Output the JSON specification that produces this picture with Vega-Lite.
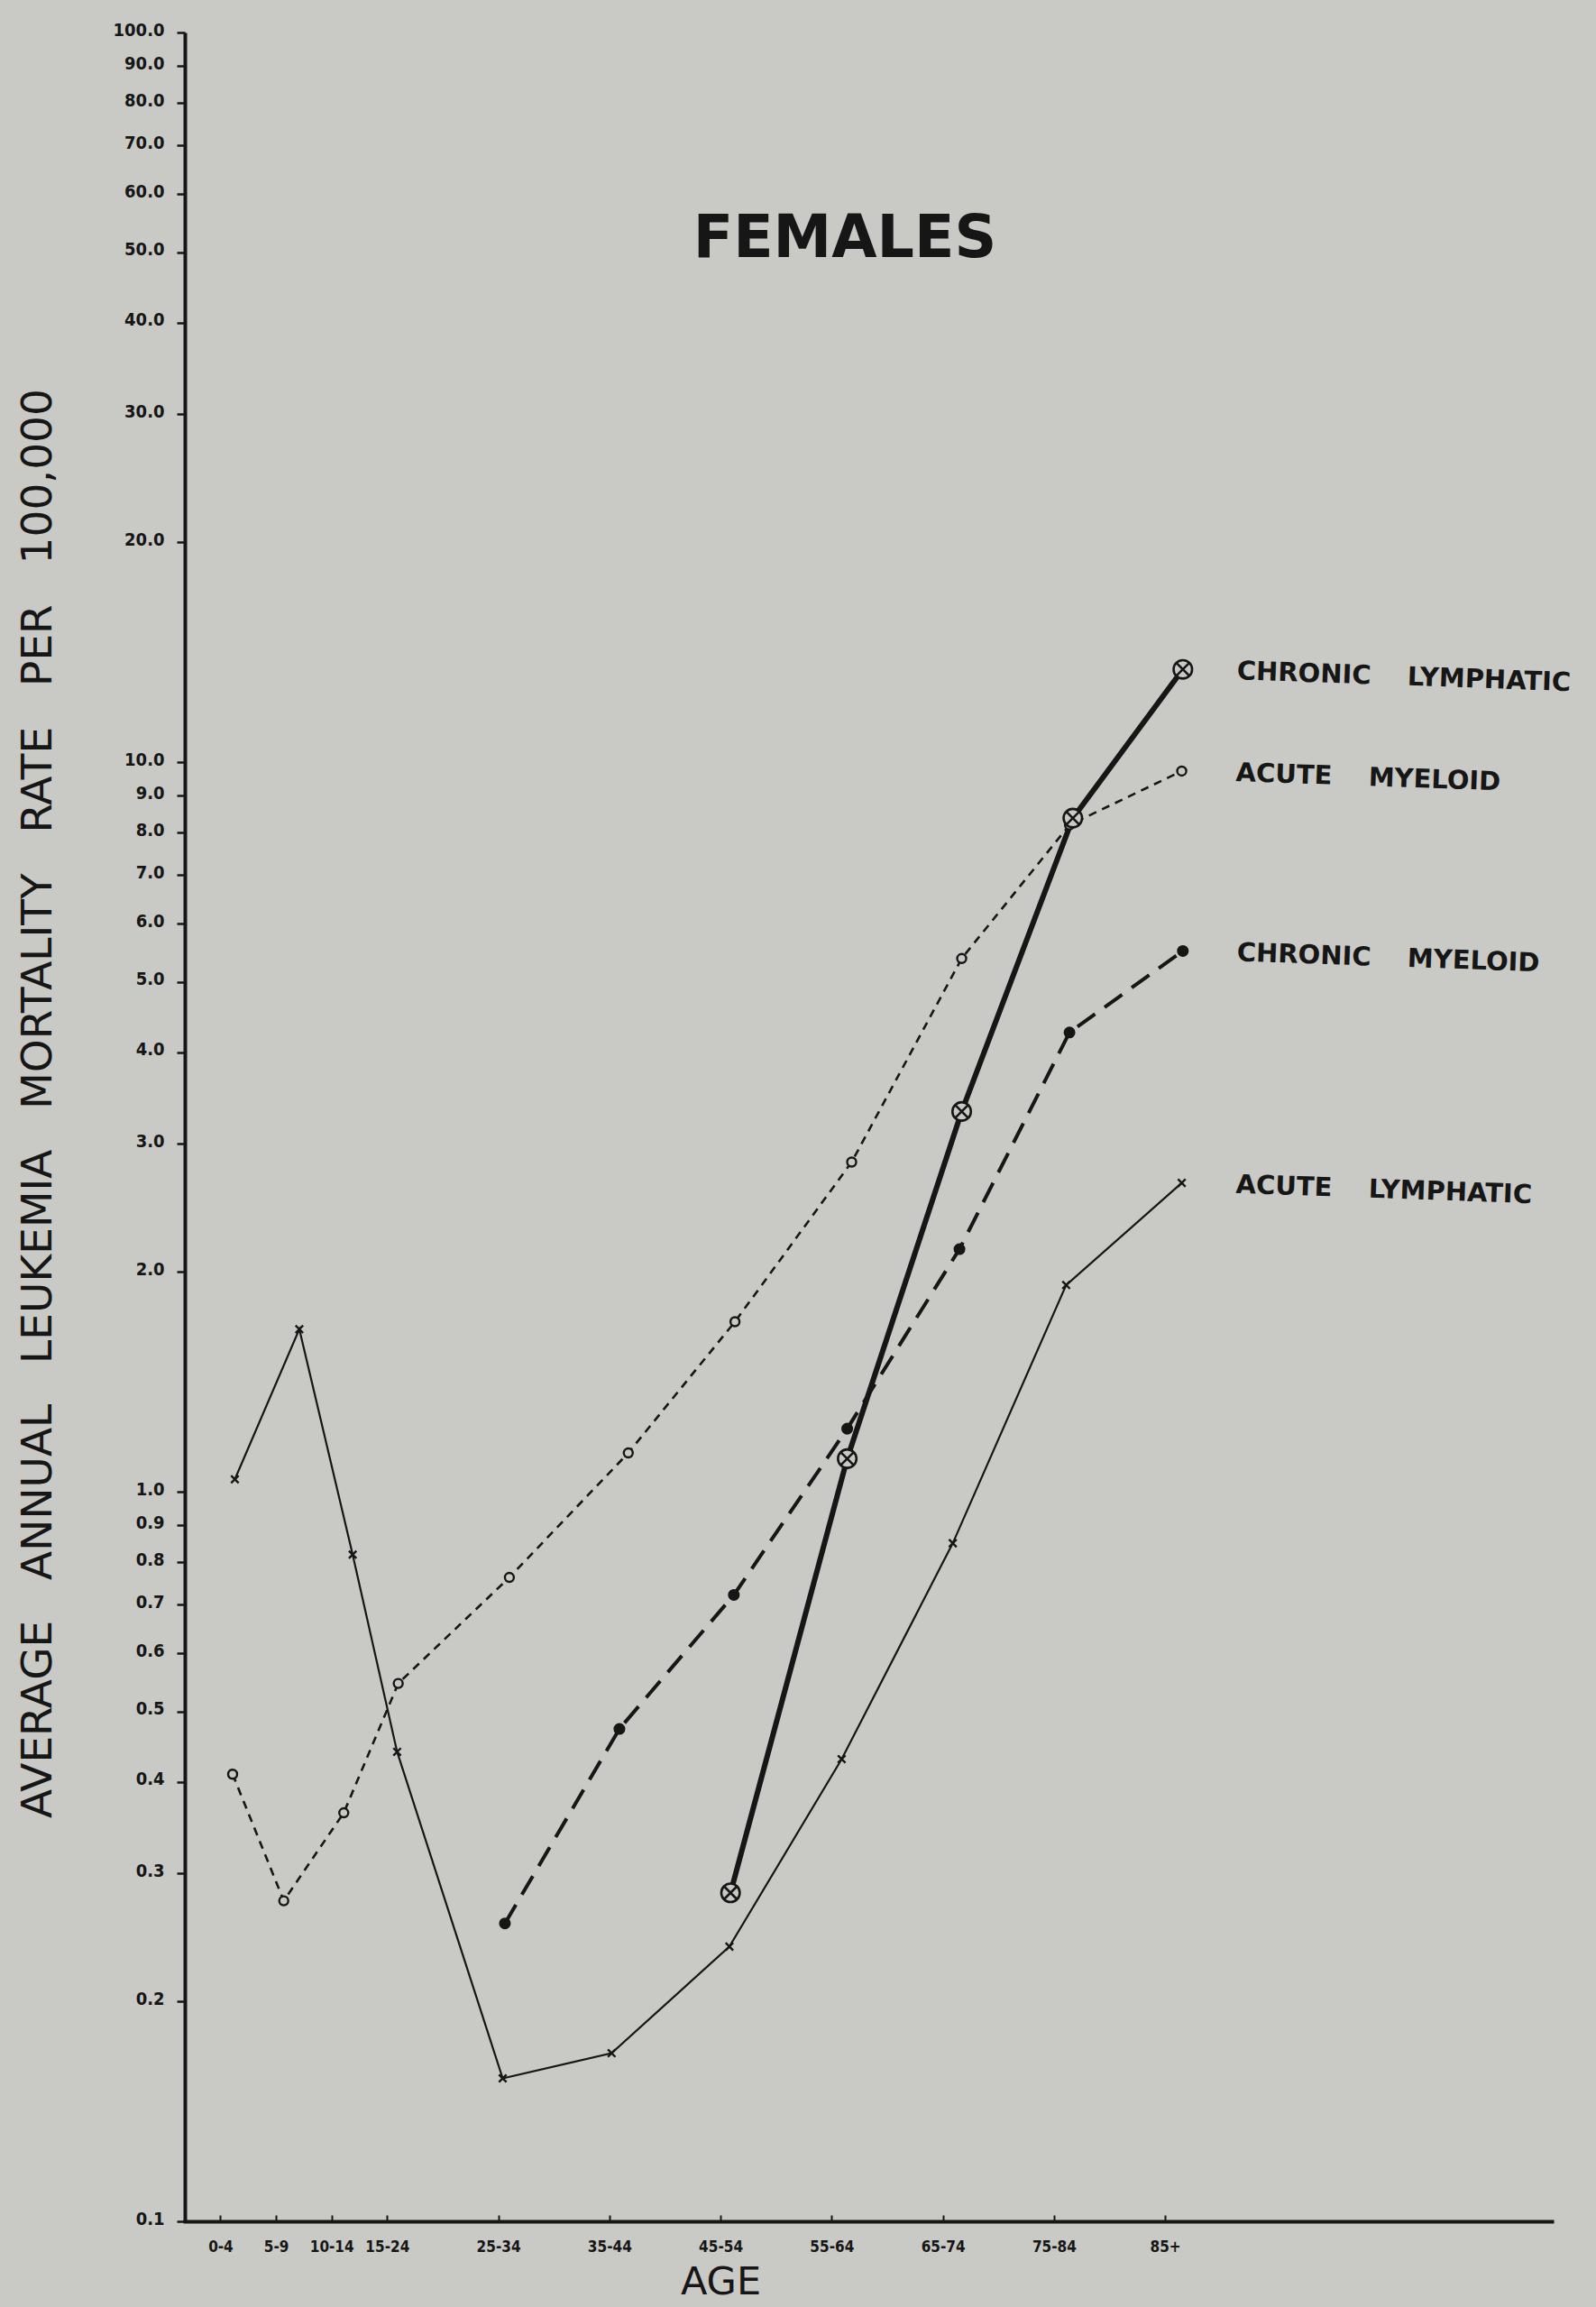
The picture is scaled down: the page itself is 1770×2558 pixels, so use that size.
{
  "$schema": "https://vega.github.io/schema/vega-lite/v6.json",
  "description": "Average annual leukemia mortality rate per 100,000 by age, females, four leukemia types on a log scale.",
  "autosize": {"type": "none"},
  "padding": {"left": 205, "top": 36, "right": 49, "bottom": 95},
  "width": 1516,
  "height": 2427,
  "background": "#c9c9c5",
  "config": {"view": {"stroke": null}},
  "title": {
    "text": "FEMALES",
    "anchor": "middle",
    "frame": "group",
    "orient": "top",
    "offset": 0,
    "baseline": "alphabetic",
    "dx": -26,
    "dy": 327,
    "font": "DejaVu Sans",
    "fontSize": 65,
    "fontWeight": "bold",
    "color": "#161616"
  },
  "data": {
    "values": [
      {"series": "ACUTE LYMPHATIC", "group": "0-4", "age": 1.3, "rate": 1.04},
      {"series": "ACUTE LYMPHATIC", "group": "5-9", "age": 7.1, "rate": 1.67},
      {"series": "ACUTE LYMPHATIC", "group": "10-14", "age": 11.9, "rate": 0.82},
      {"series": "ACUTE LYMPHATIC", "group": "15-24", "age": 15.9, "rate": 0.44},
      {"series": "ACUTE LYMPHATIC", "group": "25-34", "age": 25.4, "rate": 0.157},
      {"series": "ACUTE LYMPHATIC", "group": "35-44", "age": 35.2, "rate": 0.17},
      {"series": "ACUTE LYMPHATIC", "group": "45-54", "age": 45.8, "rate": 0.238},
      {"series": "ACUTE LYMPHATIC", "group": "55-64", "age": 55.9, "rate": 0.43},
      {"series": "ACUTE LYMPHATIC", "group": "65-74", "age": 65.9, "rate": 0.85},
      {"series": "ACUTE LYMPHATIC", "group": "75-84", "age": 76.1, "rate": 1.92},
      {"series": "ACUTE LYMPHATIC", "group": "85+", "age": 86.5, "rate": 2.65},
      {"series": "ACUTE MYELOID", "group": "0-4", "age": 1.1, "rate": 0.41},
      {"series": "ACUTE MYELOID", "group": "5-9", "age": 5.7, "rate": 0.275},
      {"series": "ACUTE MYELOID", "group": "10-14", "age": 11.1, "rate": 0.363},
      {"series": "ACUTE MYELOID", "group": "15-24", "age": 16.0, "rate": 0.546},
      {"series": "ACUTE MYELOID", "group": "25-34", "age": 26.0, "rate": 0.763},
      {"series": "ACUTE MYELOID", "group": "35-44", "age": 36.7, "rate": 1.13},
      {"series": "ACUTE MYELOID", "group": "45-54", "age": 46.3, "rate": 1.71},
      {"series": "ACUTE MYELOID", "group": "55-64", "age": 56.8, "rate": 2.83},
      {"series": "ACUTE MYELOID", "group": "65-74", "age": 66.7, "rate": 5.38},
      {"series": "ACUTE MYELOID", "group": "75-84", "age": 76.4, "rate": 8.2},
      {"series": "ACUTE MYELOID", "group": "85+", "age": 86.5, "rate": 9.72},
      {"series": "CHRONIC MYELOID", "group": "25-34", "age": 25.6, "rate": 0.256},
      {"series": "CHRONIC MYELOID", "group": "35-44", "age": 35.9, "rate": 0.473},
      {"series": "CHRONIC MYELOID", "group": "45-54", "age": 46.2, "rate": 0.722},
      {"series": "CHRONIC MYELOID", "group": "55-64", "age": 56.4, "rate": 1.22},
      {"series": "CHRONIC MYELOID", "group": "65-74", "age": 66.5, "rate": 2.15},
      {"series": "CHRONIC MYELOID", "group": "75-84", "age": 76.4, "rate": 4.26},
      {"series": "CHRONIC MYELOID", "group": "85+", "age": 86.6, "rate": 5.51},
      {"series": "CHRONIC LYMPHATIC", "group": "45-54", "age": 45.9, "rate": 0.282},
      {"series": "CHRONIC LYMPHATIC", "group": "55-64", "age": 56.4, "rate": 1.11},
      {"series": "CHRONIC LYMPHATIC", "group": "65-74", "age": 66.7, "rate": 3.32},
      {"series": "CHRONIC LYMPHATIC", "group": "75-84", "age": 76.7, "rate": 8.38},
      {"series": "CHRONIC LYMPHATIC", "group": "85+", "age": 86.6, "rate": 13.4}
    ]
  },
  "encoding": {
    "x": {
      "field": "age",
      "type": "quantitative",
      "scale": {"domain": [-3.2, 119.8], "nice": false, "zero": false},
      "axis": {
        "values": [0, 5, 10, 15, 25, 35, 45, 55, 65, 75, 85],
        "labelExpr": "datum.value >= 85 ? '85+' : datum.value < 15 ? datum.value + '-' + (datum.value + 4) : datum.value + '-' + (datum.value + 9)",
        "grid": false,
        "domainColor": "#161616",
        "domainWidth": 4,
        "domainCap": "square",
        "tickColor": "#161616",
        "tickWidth": 2,
        "tickSize": -7,
        "labelFont": "DejaVu Sans Condensed",
        "labelFontSize": 17,
        "labelFontWeight": "bold",
        "labelColor": "#161616",
        "labelPadding": 27,
        "title": "AGE",
        "titleFont": "DejaVu Sans",
        "titleFontSize": 43,
        "titleFontWeight": "normal",
        "titleColor": "#161616",
        "titleX": 594,
        "titleY": 67,
        "titleAlign": "center",
        "titleBaseline": "middle"
      }
    },
    "y": {
      "field": "rate",
      "type": "quantitative",
      "scale": {"type": "log", "domain": [0.1, 100], "nice": false},
      "axis": {
        "values": [0.1, 0.2, 0.3, 0.4, 0.5, 0.6, 0.7, 0.8, 0.9, 1, 2, 3, 4, 5, 6, 7, 8, 9, 10, 20, 30, 40, 50, 60, 70, 80, 90, 100],
        "format": ".1f",
        "grid": false,
        "domainColor": "#161616",
        "domainWidth": 4,
        "tickColor": "#161616",
        "tickWidth": 2.5,
        "tickSize": 9,
        "labelFont": "DejaVu Sans Condensed",
        "labelFontSize": 20,
        "labelFontWeight": "bold",
        "labelColor": "#161616",
        "labelPadding": 14,
        "labelOffset": -3,
        "title": "AVERAGE\u00a0 \u00a0ANNUAL\u00a0 \u00a0LEUKEMIA\u00a0 \u00a0MORTALITY\u00a0 \u00a0RATE\u00a0 \u00a0PER\u00a0 \u00a0100,000",
        "titleFont": "DejaVu Sans",
        "titleFontSize": 47,
        "titleFontWeight": "normal",
        "titleColor": "#161616",
        "titleAngle": -90,
        "titleX": -163,
        "titleY": 1187,
        "titleAlign": "center",
        "titleBaseline": "middle"
      }
    }
  },
  "layer": [
    {
      "transform": [{"filter": "datum.series == 'ACUTE LYMPHATIC'"}],
      "mark": {"type": "line", "color": "#161616", "strokeWidth": 2.2}
    },
    {
      "transform": [{"filter": "datum.series == 'ACUTE MYELOID'"}],
      "mark": {"type": "line", "color": "#161616", "strokeWidth": 2.6, "strokeDash": [9, 7]}
    },
    {
      "transform": [{"filter": "datum.series == 'CHRONIC MYELOID'"}],
      "mark": {"type": "line", "color": "#161616", "strokeWidth": 4, "strokeDash": [24, 13]}
    },
    {
      "transform": [{"filter": "datum.series == 'CHRONIC LYMPHATIC'"}],
      "mark": {"type": "line", "color": "#161616", "strokeWidth": 6}
    },
    {
      "transform": [{"filter": "datum.series == 'ACUTE LYMPHATIC'"}],
      "mark": {"type": "point", "shape": "M-1,-1L1,1M-1,1L1,-1", "filled": false, "stroke": "#161616", "strokeWidth": 2.4, "size": 70, "opacity": 1}
    },
    {
      "transform": [{"filter": "datum.series == 'ACUTE MYELOID'"}],
      "mark": {"type": "point", "shape": "circle", "filled": true, "fill": "#c9c9c5", "stroke": "#161616", "strokeWidth": 2.4, "size": 100, "opacity": 1}
    },
    {
      "transform": [{"filter": "datum.series == 'CHRONIC MYELOID'"}],
      "mark": {"type": "point", "shape": "circle", "filled": true, "color": "#161616", "size": 170, "opacity": 1}
    },
    {
      "transform": [{"filter": "datum.series == 'CHRONIC LYMPHATIC'"}],
      "mark": {"type": "point", "shape": "M-1,0A1,1 0 1,1 1,0A1,1 0 1,1 -1,0Z M-0.66,-0.66L0.66,0.66M-0.66,0.66L0.66,-0.66", "filled": true, "fill": "#c9c9c5", "stroke": "#161616", "strokeWidth": 2.6, "size": 420, "opacity": 1}
    },
    {
      "transform": [
        {"filter": "datum.group == '85+'"},
        {"calculate": "replace(datum.series, ' ', '\u00a0\u00a0\u00a0\u00a0')", "as": "label"}
      ],
      "mark": {"type": "text", "align": "left", "baseline": "middle", "dx": 60, "dy": 0, "angle": 2, "font": "DejaVu Sans", "fontSize": 29, "fontWeight": "bold", "color": "#161616"},
      "encoding": {"text": {"field": "label"}}
    }
  ]
}
